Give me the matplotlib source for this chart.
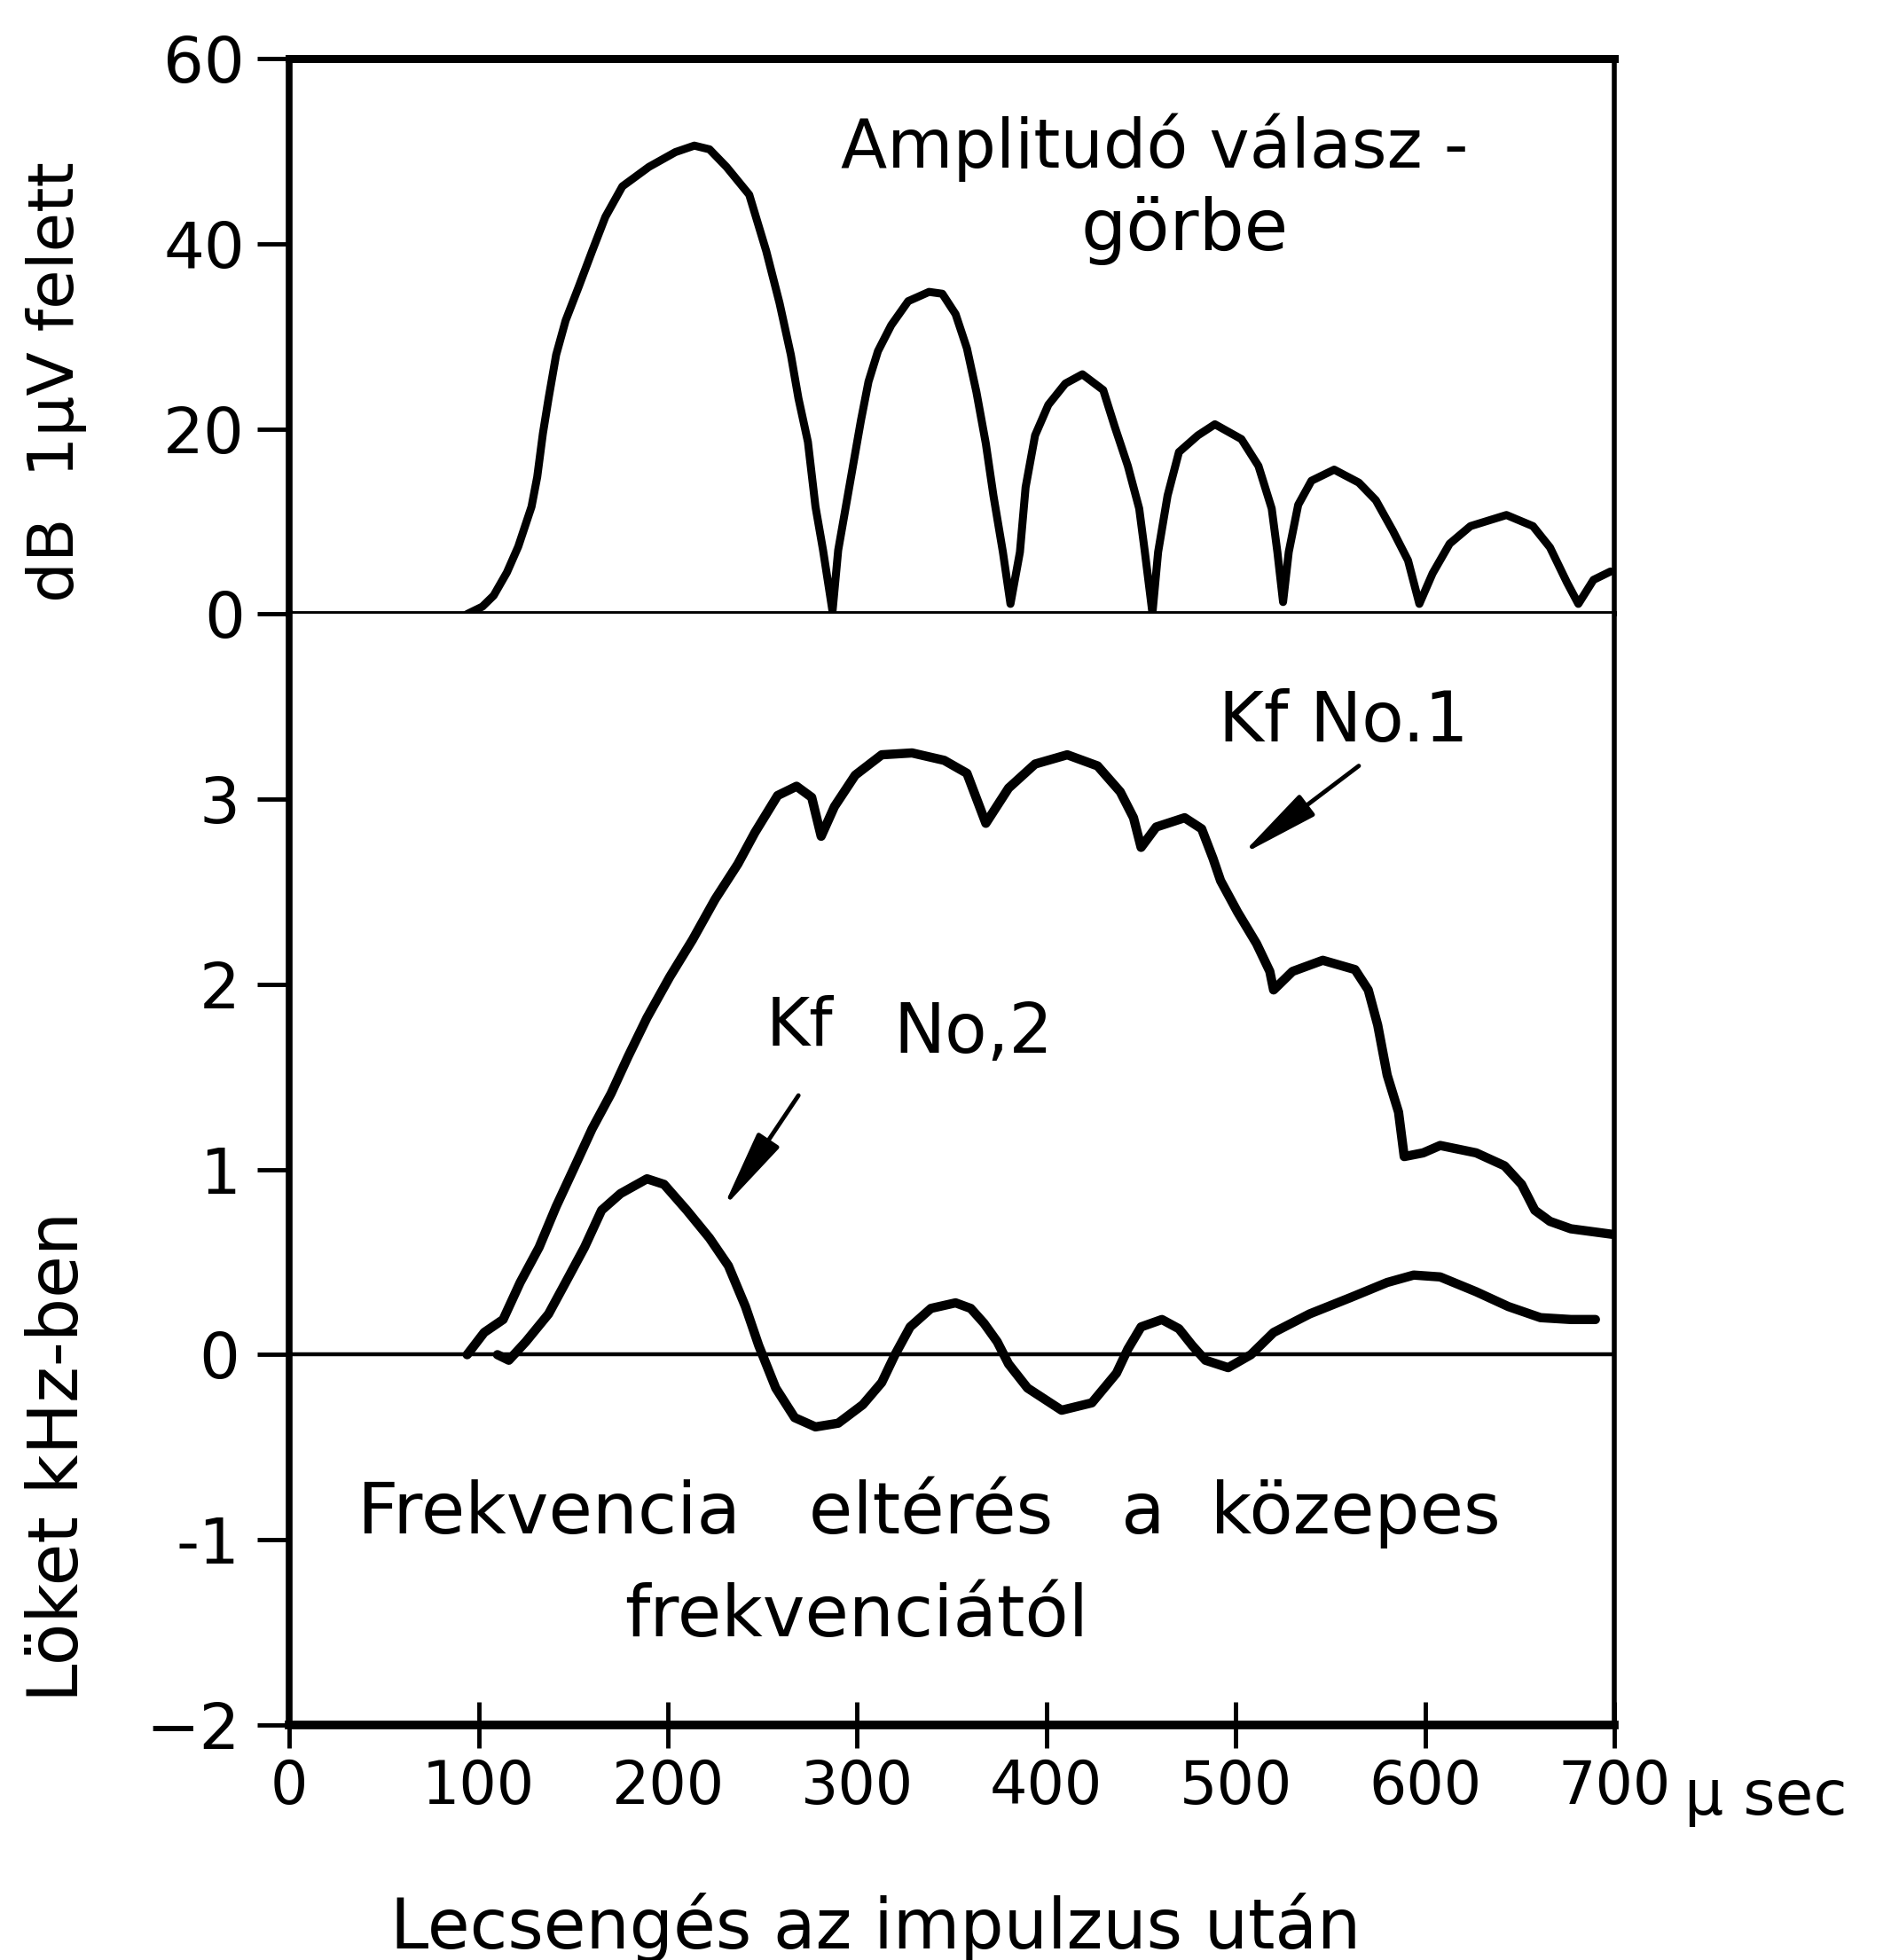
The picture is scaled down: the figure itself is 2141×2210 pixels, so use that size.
import matplotlib
matplotlib.use("Agg")
import matplotlib.pyplot as plt

# amplitude response, dB above 1 uV, against ring-down time in microseconds
amp_t = [94, 102, 108, 115, 121, 128, 131, 134, 137, 141,
         146, 153, 160, 167, 176, 190, 204, 214, 222, 231,
         243, 252, 259, 265, 269, 274, 278, 282, 287, 290,
         296, 302, 306, 311, 318, 327, 338, 345, 352, 358,
         363, 368, 372, 377, 381, 386, 389, 394, 401, 410,
         419, 430, 436, 443, 449, 452, 456, 459, 464, 470,
         480, 489, 503, 512, 519, 522, 525, 528, 533, 540,
         552, 565, 574, 583, 591, 597, 604, 613, 624, 643,
         657, 666, 675, 681, 689, 698]
amp_db = [0, 0.8, 2, 4.5, 7.3, 11.6, 14.8, 19.5, 23.3, 28,
          31.7, 35.4, 39.2, 42.9, 46.2, 48.3, 49.9, 50.6, 50.2, 48.3,
          45.3, 39.2, 33.6, 28, 23.3, 18.6, 11.6, 6.9, 0.3, 6.9,
          13.9, 20.9, 25.1, 28.4, 31.2, 33.8, 34.8, 34.6, 32.4, 28.7,
          24, 18.4, 12.8, 6.7, 1.1, 6.7, 13.7, 19.3, 22.6, 24.9,
          25.9, 24.2, 20.3, 16, 11.4, 6.7, 0.1, 6.7, 12.8, 17.5,
          19.3, 20.5, 18.9, 16, 11.4, 6.7, 1.3, 6.7, 11.8, 14.4,
          15.6, 14.2, 12.3, 9, 5.8, 1.1, 4.4, 7.6, 9.5, 10.7,
          9.5, 7.2, 3.4, 1.1, 3.7, 4.6]

# frequency deviation from the centre frequency, kHz
kf1_t = [94, 103, 113, 122, 132, 141, 151, 160, 170, 179,
         189, 201, 213, 225, 237, 246, 258, 268, 276, 281,
         288, 299, 313, 329, 346, 358, 368, 380, 394, 411,
         427, 439, 446, 450, 458, 473, 482, 488, 492, 501,
         511, 518, 520, 530, 546, 563, 570, 575, 580, 586,
         589, 599, 608, 627, 642, 651, 658, 666, 677, 699]
kf1_khz = [0.0, 0.12, 0.19, 0.39, 0.58, 0.80, 1.02, 1.22, 1.41, 1.61,
           1.82, 2.04, 2.24, 2.46, 2.65, 2.82, 3.02, 3.07, 3.01, 2.80,
           2.96, 3.13, 3.24, 3.25, 3.21, 3.14, 2.87, 3.06, 3.19, 3.24,
           3.18, 3.04, 2.90, 2.74, 2.85, 2.90, 2.84, 2.68, 2.56, 2.39,
           2.22, 2.07, 1.97, 2.07, 2.13, 2.08, 1.97, 1.78, 1.51, 1.31,
           1.07, 1.09, 1.13, 1.09, 1.02, 0.92, 0.78, 0.72, 0.68, 0.65]

kf2_t = [110, 116, 125, 137, 146, 156, 165, 175, 189, 198,
         210, 222, 232, 241, 248, 257, 267, 278, 290, 303,
         313, 320, 328, 339, 352, 360, 367, 374, 380, 390,
         408, 424, 437, 443, 450, 461, 470, 477, 484, 496,
         508, 520, 539, 561, 580, 594, 608, 627, 644, 661,
         677, 690]
kf2_khz = [0.0, -0.03, 0.07, 0.22, 0.39, 0.58, 0.78, 0.87, 0.95, 0.92,
           0.78, 0.63, 0.48, 0.26, 0.05, -0.18, -0.34, -0.39, -0.37, -0.27,
           -0.15, 0.0, 0.15, 0.25, 0.28, 0.25, 0.17, 0.07, -0.05, -0.18,
           -0.30, -0.26, -0.10, 0.03, 0.15, 0.19, 0.14, 0.05, -0.03, -0.07,
           0.0, 0.12, 0.22, 0.31, 0.39, 0.43, 0.42, 0.34, 0.26, 0.20,
           0.19, 0.19]

time_ticks = [0, 100, 200, 300, 400, 500, 600, 700]
db_ticks = [0, 20, 40, 60]
khz_ticks = [-2, -1, 0, 1, 2, 3]
khz_labels = ["\u22122", "-1", "0", "1", "2", "3"]

plt.rcParams["font.family"] = ["DejaVu Sans"]
ink = "black"

fig = plt.figure(figsize=(21.41, 22.10), dpi=100)
gs = fig.add_gridspec(2, 1, height_ratios=[1, 2], hspace=0,
                      left=0.1523, right=0.8501, top=0.9701, bottom=0.1199)
ax_amp = fig.add_subplot(gs[0])
ax_dev = fig.add_subplot(gs[1], sharex=ax_amp)

line_kw = dict(color=ink, solid_joinstyle="round", solid_capstyle="round")
ax_amp.plot(amp_t, amp_db, lw=6.5, **line_kw)
ax_dev.plot(kf1_t, kf1_khz, lw=7.5, **line_kw)
ax_dev.plot(kf2_t, kf2_khz, lw=7.5, **line_kw)
ax_dev.axhline(0, color=ink, lw=3.2)

ax_amp.set_xlim(0, 700)
ax_amp.set_ylim(0, 60)
ax_dev.set_ylim(-2, 4)

ax_amp.set_yticks(db_ticks)
ax_amp.tick_params(axis="y", direction="out", length=26, width=3.5,
                   labelsize=52, pad=10)
ax_amp.tick_params(axis="x", length=0, labelbottom=False)

ax_dev.set_yticks(khz_ticks, khz_labels)
ax_dev.tick_params(axis="y", direction="out", length=26, width=3.5,
                   labelsize=52, pad=14)
ax_dev.set_xticks(time_ticks)
ax_dev.tick_params(axis="x", direction="inout", length=37, width=3.5,
                   labelsize=48, pad=8)

for side, w in [("top", 6.5), ("left", 5.5), ("right", 4), ("bottom", 4.2)]:
    ax_amp.spines[side].set_linewidth(w)
for side, w in [("left", 5.5), ("right", 4), ("bottom", 7)]:
    ax_dev.spines[side].set_linewidth(w)
ax_dev.spines["top"].set_visible(False)

# captions inside the frame
ax_amp.text(457, 48.2, "Amplitudó válasz -", ha="center", va="baseline", fontsize=55)
ax_amp.text(473, 39.3, "görbe", ha="center", va="baseline", fontsize=58)

ax_dev.text(491, 3.31, "Kf No.1", ha="left", va="baseline", fontsize=56)
ax_dev.text(252, 1.67, "Kf", ha="left", va="baseline", fontsize=54)
ax_dev.text(319, 1.63, "No,2", ha="left", va="baseline", fontsize=56)
ax_dev.text(36, -0.964, "Frekvencia   eltérés   a  közepes", ha="left",
            va="baseline", fontsize=58)
ax_dev.text(177, -1.52, "frekvenciától", ha="left", va="baseline", fontsize=58)

arrow_kw = dict(arrowstyle="-|>,head_length=1.1,head_width=0.18", color=ink,
                lw=3.5, mutation_scale=50, shrinkA=0, shrinkB=0)
ax_dev.annotate("", xy=(503, 2.70), xytext=(565, 3.18), arrowprops=arrow_kw)
ax_dev.annotate("", xy=(229, 0.79), xytext=(269, 1.40), arrowprops=arrow_kw)

# axis titles
fig.text(0.0296, 0.805, "dB  1\u03bcV felett", rotation=90, ha="center",
         va="center", fontsize=52)
fig.text(0.031, 0.257, "Löket kHz-ben", rotation=90, ha="center",
         va="center", fontsize=56)
fig.text(0.8870, 0.0744, "\u03bc sec", ha="left", va="baseline", fontsize=50)
fig.text(0.461, 0.0059, "Lecsengés az impulzus után", ha="center",
         va="baseline", fontsize=56)

fig.savefig("out.png", dpi=100)
plt.close(fig)
